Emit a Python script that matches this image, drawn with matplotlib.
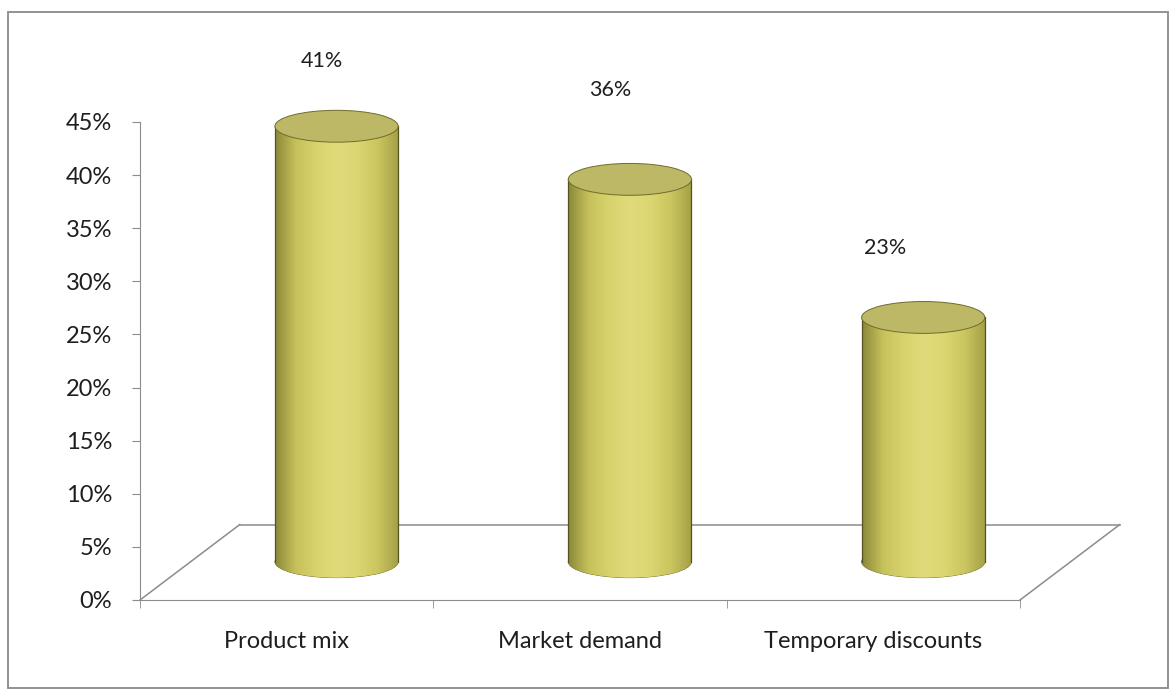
import matplotlib
matplotlib.use("Agg")
import matplotlib.pyplot as plt
import numpy as np
from matplotlib.patches import Ellipse, Rectangle
from matplotlib.colors import LinearSegmentedColormap

categories = ["Product mix", "Market demand", "Temporary discounts"]
values = [41, 36, 23]
value_labels = ["41%", "36%", "23%"]
yticks = [0, 5, 10, 15, 20, 25, 30, 35, 40, 45]

plt.rcParams["font.family"] = ["Lato", "DejaVu Sans"]

W, H = 1176, 695
fig = plt.figure(figsize=(W / 100, H / 100), dpi=100)
fig.patch.set_facecolor("white")

# outer frame
fig.add_artist(Rectangle((8 / W, 7 / H), 1160 / W, 676 / H, transform=fig.transFigure,
                         fill=False, edgecolor="#8a8a8a", linewidth=1.3))

ax = fig.add_axes([140 / W, 1 - 600 / H, 880 / W, 478 / H])
ax.set_xlim(-0.5, 2.5)
ax.set_ylim(0, 45)
ax.set_facecolor("none")

for s in ["top", "right"]:
    ax.spines[s].set_visible(False)
ax.spines["left"].set_color("#8c8c8c")
ax.spines["bottom"].set_color("#8c8c8c")
ax.spines["bottom"].set_zorder(6)

ax.set_yticks(yticks)
ax.set_yticklabels([f"{t}%" for t in yticks], fontsize=17, color="#1e1e1e")
ax.tick_params(axis="y", length=6, color="#8c8c8c", pad=14)
ax.set_xticks(range(len(categories)))
ax.set_xticklabels(categories, fontsize=17, color="#1e1e1e")
ax.tick_params(axis="x", which="major", length=0, pad=22)
ax.set_xticks([-0.5, 0.5, 1.5, 2.5], minor=True)
ax.tick_params(axis="x", which="minor", length=6, color="#8c8c8c")

# depth offset of the 3D floor (in data units)
dx_back, dy_back = 0.34, 7.1
dx_mid, dy_mid = 0.17, 3.6

# floor outline
floor_kw = dict(color="#8c8c8c", linewidth=1.1, clip_on=False)
ax.plot([-0.5, -0.5 + dx_back], [0, dy_back], zorder=1, **floor_kw)
ax.plot([-0.5 + dx_back, 2.5 + dx_back], [dy_back, dy_back], zorder=1, **floor_kw)
ax.plot([2.5, 2.5 + dx_back], [0, dy_back], zorder=1, **floor_kw)

# cylinders
width = 0.42
eh = 3.0
cmap = LinearSegmentedColormap.from_list(
    "cyl", ["#8a883a", "#c6c15a", "#d9d36e", "#e0da7a", "#dcd672", "#cbc560", "#a39f45"])
grad = np.linspace(0, 1, 256).reshape(1, -1)
xpos = np.arange(len(categories)) + dx_mid
bars = ax.bar(xpos, values, width=width, bottom=dy_mid, color="#d2cc68",
              edgecolor="none", zorder=3, clip_on=False)
for x, v, b in zip(xpos, values, bars):
    bottom = Ellipse((x, dy_mid), width, eh, facecolor="#cbc560", edgecolor="#6f6c2c",
                     linewidth=0.6, zorder=2.9, clip_on=False)
    ax.add_patch(bottom)
    im = ax.imshow(grad, cmap=cmap, aspect="auto", zorder=3.1,
                   extent=[x - width / 2, x + width / 2, dy_mid - eh / 2, dy_mid + v])
    im.set_clip_path(b)
    im2 = ax.imshow(grad, cmap=cmap, aspect="auto", zorder=3.0,
                    extent=[x - width / 2, x + width / 2, dy_mid - eh / 2, dy_mid])
    im2.set_clip_path(bottom)
    ax.plot([x - width / 2, x - width / 2], [dy_mid, dy_mid + v], color="#55531f",
            linewidth=0.9, zorder=3.2)
    ax.plot([x + width / 2, x + width / 2], [dy_mid, dy_mid + v], color="#55531f",
            linewidth=0.9, zorder=3.2)
    top = Ellipse((x, dy_mid + v), width, eh, facecolor="#bcb866", edgecolor="#6f6c2c",
                  linewidth=0.7, zorder=4, clip_on=False)
    ax.add_patch(top)

ax.set_xlim(-0.5, 2.5)
ax.set_ylim(0, 45)

# data labels
label_offsets = [(35, 103), (30, 128), (12, 108)]
for i, (v, lab, off) in enumerate(zip(values, value_labels, label_offsets)):
    ax.annotate(lab, xy=(i, v), xytext=off, textcoords="offset pixels",
                ha="center", va="center", fontsize=15.5, color="#1e1e1e",
                annotation_clip=False)

fig.savefig("out.png", dpi=100, facecolor="white")
